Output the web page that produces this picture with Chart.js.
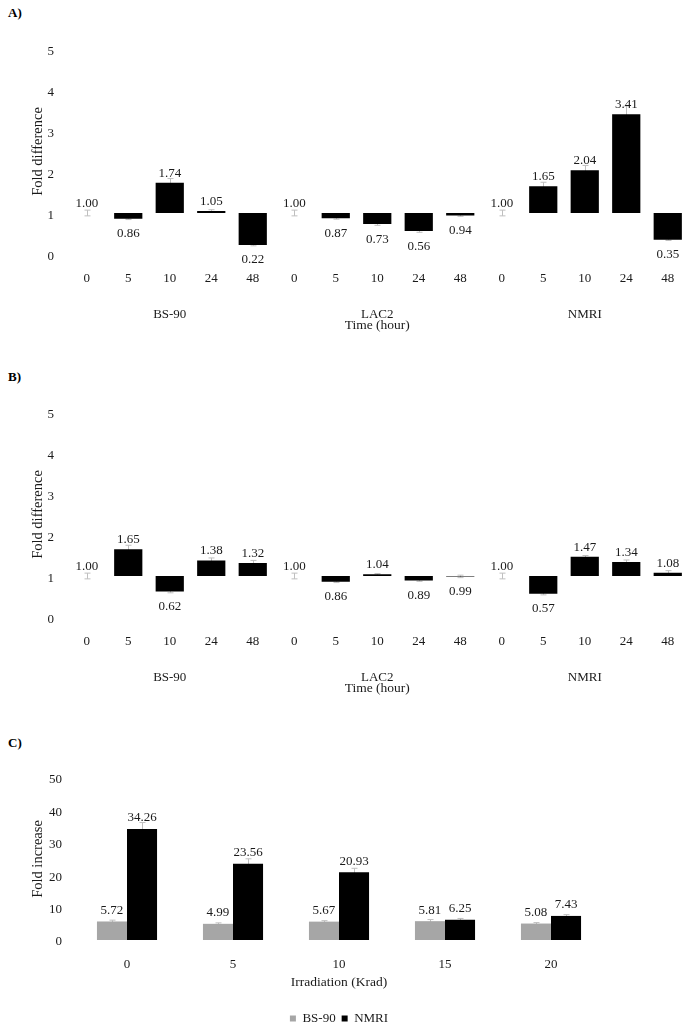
<!DOCTYPE html>
<html>
<head>
<meta charset="utf-8">
<script src="https://cdn.jsdelivr.net/npm/chart.js@4.4.0/dist/chart.umd.min.js"></script>
<style>
  body { margin: 0; background: #fff; width: 692px; height: 1033px; position: relative; overflow: hidden; }
  .panel { position: absolute; left: 0; width: 692px; }
  .tag { position: absolute; left: 8px; font: bold 13px "Liberation Serif", serif; color: #000; }
</style>
</head>
<body>
<div class="tag" style="top:5px">A)</div>
<div class="panel" style="top:0px; height:345px"><canvas id="chartA" width="692" height="345"></canvas></div>
<div class="tag" style="top:369px">B)</div>
<div class="panel" style="top:363px; height:345px"><canvas id="chartB" width="692" height="345"></canvas></div>
<div class="tag" style="top:735px">C)</div>
<div class="panel" style="top:730px; height:305px"><canvas id="chartC" width="692" height="305"></canvas></div>

<script>
// categories
const strains = ['BS-90', 'LAC2', 'NMRI'];
const hours = ['0', '5', '10', '24', '48'];
const doses = ['0', '5', '10', '15', '20'];

// panel A: fold difference over time, one block of hours per strain
const foldA = [1.00, 0.86, 1.74, 1.05, 0.22, 1.00, 0.87, 0.73, 0.56, 0.94, 1.00, 1.65, 2.04, 3.41, 0.35];
const errA  = [0.07, 0.02, 0.10, 0.03, 0.02, 0.07, 0.02, 0.03, 0.03, 0.02, 0.07, 0.10, 0.12, 0.20, 0.02];

// panel B
const foldB = [1.00, 1.65, 0.62, 1.38, 1.32, 1.00, 0.86, 1.04, 0.89, 0.99, 1.00, 0.57, 1.47, 1.34, 1.08];
const errB  = [0.07, 0.10, 0.03, 0.06, 0.06, 0.07, 0.02, 0.02, 0.02, 0.03, 0.07, 0.03, 0.03, 0.05, 0.05];

// panel C: fold increase by irradiation dose
const bs90C = [5.72, 4.99, 5.67, 5.81, 5.08];
const nmriC = [34.26, 23.56, 20.93, 6.25, 7.43];
const bs90Err = [0.4, 0.3, 0.3, 0.5, 0.3];
const nmriErr = [2.0, 1.5, 1.2, 0.4, 0.4];

Chart.defaults.font.family = "'Liberation Serif', 'Times New Roman', serif";
Chart.defaults.font.size = 13;
Chart.defaults.color = '#1a1a1a';
Chart.defaults.animation = false;

const TEXT = '#1a1a1a';
const ERR_COLOR = '#bfbfbf';

// hour labels repeated for each strain, strain name under the middle hour
const timeLabels = [];
const groupLabels = [];
strains.forEach(s => {
  hours.forEach((h, i) => {
    timeLabels.push(h);
    groupLabels.push(i === 2 ? s : '');
  });
});

// small error bars, drawn before the bars so the inner half is hidden
const errorBars = {
  id: 'errorBars',
  beforeDatasetsDraw(chart) {
    const ctx = chart.ctx;
    const yScale = chart.scales.y;
    ctx.save();
    ctx.strokeStyle = ERR_COLOR;
    ctx.lineWidth = 1;
    chart.data.datasets.forEach((ds, di) => {
      if (!ds.errors) return;
      const meta = chart.getDatasetMeta(di);
      meta.data.forEach((bar, i) => {
        const v = ds.values[i];
        const e = ds.errors[i];
        const x = Math.round(bar.x) + 0.5;
        const y1 = yScale.getPixelForValue(v - e);
        const y2 = yScale.getPixelForValue(v + e);
        ctx.beginPath();
        ctx.moveTo(x, y1); ctx.lineTo(x, y2);
        ctx.moveTo(x - 3, y1); ctx.lineTo(x + 3, y1);
        ctx.moveTo(x - 3, y2); ctx.lineTo(x + 3, y2);
        ctx.stroke();
      });
    });
    ctx.restore();
  }
};

// value labels: above the bar end, or below it when the bar hangs under 1
const valueLabels = {
  id: 'valueLabels',
  afterDatasetsDraw(chart) {
    const ctx = chart.ctx;
    ctx.save();
    ctx.font = "13px 'Liberation Serif', serif";
    ctx.fillStyle = TEXT;
    ctx.textAlign = 'center';
    ctx.textBaseline = 'alphabetic';
    chart.data.datasets.forEach((ds, di) => {
      const meta = chart.getDatasetMeta(di);
      meta.data.forEach((bar, i) => {
        const v = ds.values[i];
        const top = Math.min(bar.y, bar.base);
        const bottom = Math.max(bar.y, bar.base);
        if (ds.floating && v < 1) {
          ctx.fillText(v.toFixed(2), bar.x, bottom + 18.5);
        } else {
          ctx.fillText(v.toFixed(2), bar.x, top - (ds.floating ? 6 : 7.5));
        }
      });
    });
    ctx.restore();
  }
};

function foldChart(id, values, errors) {
  new Chart(document.getElementById(id), {
    type: 'bar',
    data: {
      labels: timeLabels,
      datasets: [{
        data: values.map(v => [1, v]),
        values: values,
        errors: errors,
        floating: true,
        backgroundColor: '#000',
        borderWidth: 0,
        barPercentage: 0.68,
        categoryPercentage: 1
      }]
    },
    options: {
      responsive: false,
      layout: { padding: { top: 49, right: 3.5, bottom: 0, left: 0 } },
      plugins: { legend: { display: false }, tooltip: { enabled: false } },
      scales: {
        x: {
          weight: 0,
          grid: { display: false, drawTicks: false },
          border: { display: false },
          ticks: { autoSkip: false, maxRotation: 0, padding: 17, color: TEXT },
          afterFit: s => { s.height = 38; }
        },
        x2: {
          type: 'category',
          position: 'bottom',
          weight: 1,
          labels: groupLabels,
          offset: true,
          grid: { display: false, drawTicks: false },
          border: { display: false },
          ticks: { autoSkip: false, maxRotation: 0, padding: 15, color: TEXT },
          title: { display: true, text: 'Time (hour)', color: TEXT, font: { size: 13.5 }, padding: { top: 0, bottom: 11 } },
          afterFit: s => { s.height = 53; }
        },
        y: {
          min: 0,
          max: 5,
          grid: { display: false, drawTicks: false },
          border: { display: false },
          ticks: { stepSize: 1, padding: 12, labelOffset: 3, color: TEXT },
          title: { display: true, text: 'Fold difference', color: TEXT, font: { size: 14.5 }, padding: { top: 29, bottom: 0 } },
          afterFit: s => { s.width = 66; }
        }
      }
    },
    plugins: [errorBars, valueLabels]
  });
}

foldChart('chartA', foldA, errA);
foldChart('chartB', foldB, errB);

new Chart(document.getElementById('chartC'), {
  type: 'bar',
  data: {
    labels: doses,
    datasets: [
      { label: 'BS-90', data: bs90C, values: bs90C, errors: bs90Err, backgroundColor: '#a6a6a6', borderWidth: 0 },
      { label: 'NMRI', data: nmriC, values: nmriC, errors: nmriErr, backgroundColor: '#000', borderWidth: 0 }
    ]
  },
  options: {
    responsive: false,
    layout: { padding: { top: 48, right: 88, bottom: 0, left: 0 } },
    datasets: { bar: { barPercentage: 1, categoryPercentage: 0.567 } },
    plugins: {
      tooltip: { enabled: false },
      legend: {
        position: 'bottom',
        fullSize: false,
        labels: { boxWidth: 6, boxHeight: 6, padding: 6, color: TEXT, font: { size: 13 } }
      }
    },
    scales: {
      x: {
        grid: { display: false, drawTicks: false },
        border: { display: false },
        ticks: { maxRotation: 0, padding: 17, color: TEXT },
        title: { display: true, text: 'Irradiation (Krad)', color: TEXT, font: { size: 13.5 }, padding: { top: 0, bottom: 15 } },
        afterFit: s => { s.height = 66; }
      },
      y: {
        min: 0,
        max: 50,
        grid: { display: false, drawTicks: false },
        border: { display: false },
        ticks: { stepSize: 10, padding: 12, labelOffset: 2, color: TEXT },
        title: { display: true, text: 'Fold increase', color: TEXT, font: { size: 14.5 }, padding: { top: 29, bottom: 0 } },
        afterFit: s => { s.width = 74; }
      }
    }
  },
  plugins: [errorBars, valueLabels]
});
</script>
</body>
</html>
